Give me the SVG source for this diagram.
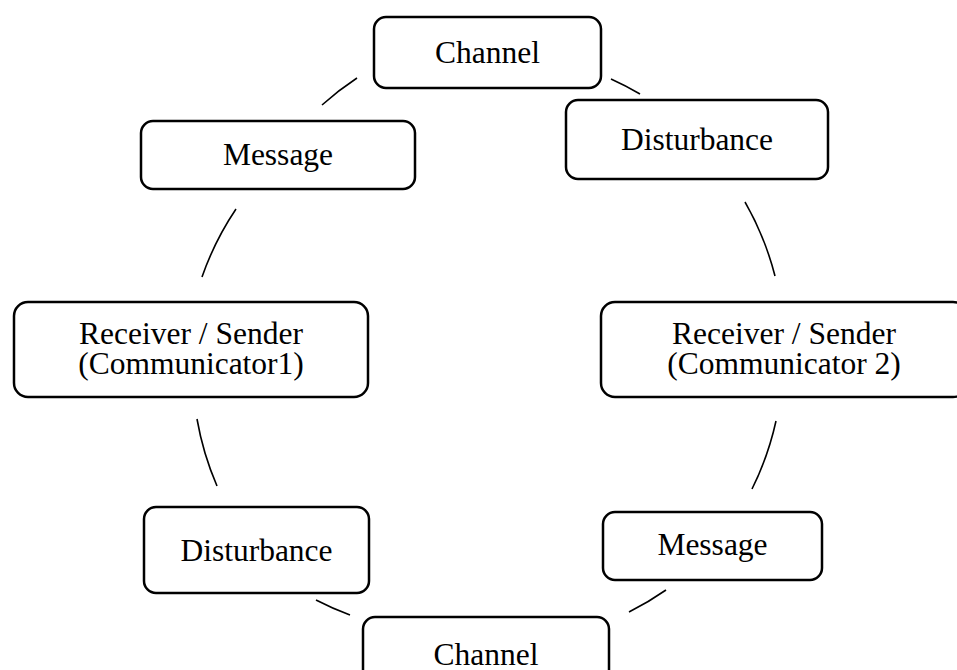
<svg xmlns="http://www.w3.org/2000/svg" width="957" height="670" viewBox="0 0 957 670">
  <style>
    .box { fill: #ffffff; stroke: #000000; stroke-width: 2.5; }
    .label { font-family: 'Liberation Serif', 'DejaVu Serif', 'Times New Roman', Times, serif; font-size: 31.5px; fill: #000000; text-anchor: middle; }
    .link { fill: none; stroke: #000000; stroke-width: 1.6; }
  </style>
  <rect width="957" height="670" fill="#ffffff"/>

  <!-- arcs of the communication cycle -->
  <g id="connectors">
    <path class="link" d="M 611 79 A 297 297 0 0 1 640 94"/>
    <path class="link" d="M 745 202 A 297 297 0 0 1 775 276"/>
    <path class="link" d="M 776 421 A 297 297 0 0 1 752 489"/>
    <path class="link" d="M 666 590 A 297 297 0 0 1 629 612"/>
    <path class="link" d="M 350 615 A 297 297 0 0 1 316 600"/>
    <path class="link" d="M 217 486 A 297 297 0 0 1 197 419"/>
    <path class="link" d="M 202 277 A 297 297 0 0 1 236 209"/>
    <path class="link" d="M 322 105 A 297 297 0 0 1 357 78"/>
  </g>

  <g id="channel-top">
    <rect class="box" x="374" y="17" width="227" height="71" rx="12"/>
    <text class="label" x="487.5" y="63" font-family="Liberation Serif, DejaVu Serif, serif">Channel</text>
  </g>

  <g id="disturbance-top">
    <rect class="box" x="566" y="100" width="262" height="79" rx="12"/>
    <text class="label" x="697" y="150" font-family="Liberation Serif, DejaVu Serif, serif">Disturbance</text>
  </g>

  <g id="message-top">
    <rect class="box" x="141" y="121" width="274" height="68" rx="12"/>
    <text class="label" x="278" y="165" font-family="Liberation Serif, DejaVu Serif, serif">Message</text>
  </g>

  <g id="communicator-1">
    <rect class="box" x="14" y="302" width="354" height="95" rx="14"/>
    <text class="label" x="191" y="344" font-family="Liberation Serif, DejaVu Serif, serif">Receiver / Sender</text>
    <text class="label" x="191" y="374" font-family="Liberation Serif, DejaVu Serif, serif">(Communicator1)</text>
  </g>

  <g id="communicator-2">
    <rect class="box" x="601" y="302" width="366" height="95" rx="14"/>
    <text class="label" x="784" y="344" font-family="Liberation Serif, DejaVu Serif, serif">Receiver / Sender</text>
    <text class="label" x="784" y="374" font-family="Liberation Serif, DejaVu Serif, serif">(Communicator 2)</text>
  </g>

  <g id="disturbance-bottom">
    <rect class="box" x="144" y="507" width="225" height="86" rx="12"/>
    <text class="label" x="256.5" y="561" font-family="Liberation Serif, DejaVu Serif, serif">Disturbance</text>
  </g>

  <g id="message-bottom">
    <rect class="box" x="603" y="512" width="219" height="68" rx="12"/>
    <text class="label" x="712.5" y="555" font-family="Liberation Serif, DejaVu Serif, serif">Message</text>
  </g>

  <g id="channel-bottom">
    <rect class="box" x="363" y="617" width="246" height="72" rx="12"/>
    <text class="label" x="486" y="665" font-family="Liberation Serif, DejaVu Serif, serif">Channel</text>
  </g>
</svg>
